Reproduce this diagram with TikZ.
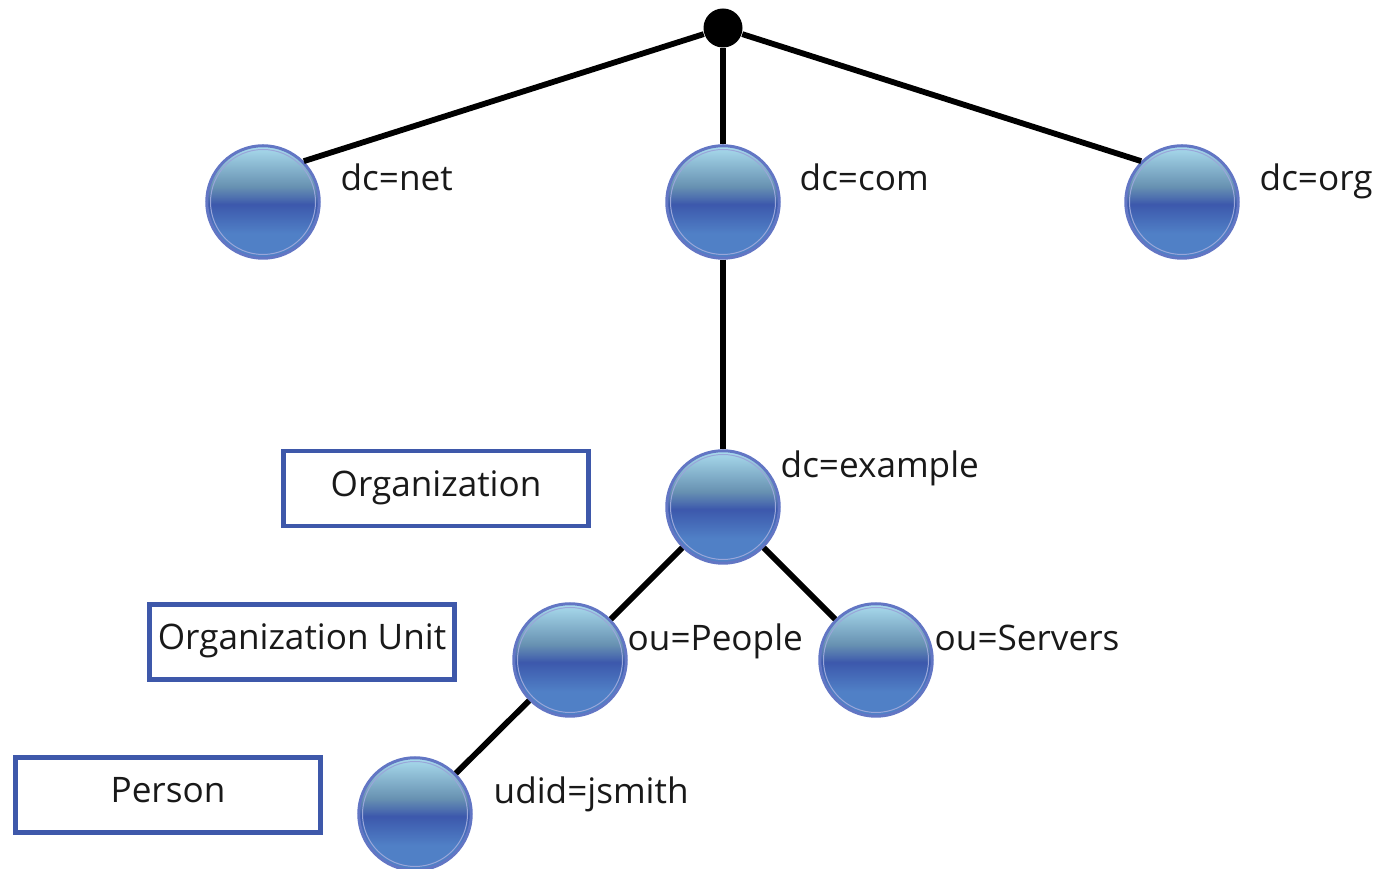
\documentclass[tikz,border=0pt]{standalone}
\usepackage{fontspec}
\setmainfont{Open Sans}
\definecolor{ballrim}{RGB}{98,118,196}
\definecolor{boxblue}{RGB}{62,88,170}
\definecolor{balltop}{RGB}{170,220,238}
\definecolor{ballgrey}{RGB}{104,146,178}
\definecolor{ballmid}{RGB}{60,88,172}
\definecolor{ballbottom}{RGB}{80,128,198}
\pgfdeclareverticalshading{ldapball}{100bp}{
    color(0bp)=(ballbottom);
    color(25bp)=(ballbottom);
    color(36bp)=(ballbottom);
    color(49bp)=(ballmid);
    color(52bp)=(ballmid!60!ballgrey);
    color(57bp)=(ballgrey);
    color(75bp)=(balltop);
    color(100bp)=(balltop)}
\tikzset{
    ball/.style={circle,minimum size=1.125cm,inner sep=0pt,draw=ballrim,line width=0.03cm,
        shading=ldapball,
        path picture={\draw[white!35!ballrim,line width=0.01cm] (path picture bounding box.center) circle (0.525cm);}},
    root/.style={circle,fill=black,minimum size=0.39cm,inner sep=0pt},
    edge/.style={line width=0.058cm,black},
    levelbox/.style={draw=boxblue,line width=0.048cm,minimum width=3.05cm,minimum height=0.75cm,inner sep=0pt,
        text height=0.26cm,text depth=0.10cm,font=\fontsize{10pt}{12pt}\selectfont,text=black!90},
    lbl/.style={anchor=base west,inner sep=0pt,font=\fontsize{10pt}{12pt}\selectfont,text=black!90}
}
\begin{document}
\begin{tikzpicture}
    \useasboundingbox (0,0) rectangle (13.79,8.69);

    \node[root] (top) at (7.23,8.41) {};
    \node[ball] (net) at (2.63,6.67) {};
    \node[ball] (com) at (7.23,6.67) {};
    \node[ball] (org) at (11.82,6.67) {};
    \node[ball] (example) at (7.23,3.62) {};
    \node[ball] (people) at (5.70,2.09) {};
    \node[ball] (servers) at (8.76,2.09) {};
    \node[ball] (jsmith) at (4.15,0.55) {};

    \draw[edge] (top) -- (net.north east);
    \draw[edge] (top) -- (com);
    \draw[edge] (top) -- (org.north west);
    \draw[edge] (com) -- (example);
    \draw[edge] (example) -- (people);
    \draw[edge] (example) -- (servers);
    \draw[edge] (people) -- (jsmith);

    \node[lbl] (netlbl) at (3.40,6.78) {dc=net};
    \node[lbl] (comlbl) at (7.99,6.78) {dc=com};
    \node[lbl] (orglbl) at (12.59,6.78) {dc=org};
    \node[lbl] (examplelbl) at (7.80,3.91) {dc=example};
    \node[lbl] (peoplelbl) at (6.27,2.18) {ou=People};
    \node[lbl] (serverslbl) at (9.34,2.18) {ou=Servers};
    \node[lbl] (jsmithlbl) at (4.93,0.65) {udid=jsmith};

    \node[levelbox] (orgbox) at (4.36,3.805) {Organization};
    \node[levelbox] (oubox) at (3.02,2.27) {Organization Unit};
    \node[levelbox] (personbox) at (1.68,0.74) {Person};
\end{tikzpicture}
\end{document}
